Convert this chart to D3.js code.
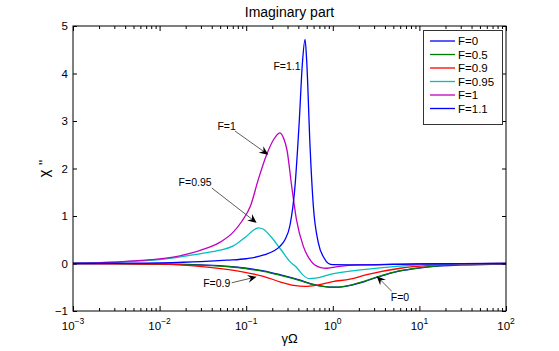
<!DOCTYPE html>
<html>
<head>
<meta charset="utf-8">
<script src="https://cdn.jsdelivr.net/npm/d3@7"></script>
<style>
  body { margin: 0; background: #fff; }
  text { font-family: "Liberation Sans", Arial, Helvetica, sans-serif; fill: #000; }
</style>
</head>
<body>
<svg id="chart" width="559" height="351"></svg>
<script>
// ---- data ----
const xDomain = [1e-3, 1e2];
const yDomain = [-1, 5];
const yTicks = [-1, 0, 1, 2, 3, 4, 5];
const xTickExps = [-3, -2, -1, 0, 1, 2];

const seriesNames = ["F=0", "F=0.5", "F=0.9", "F=0.95", "F=1", "F=1.1"];

// [γΩ, χ''] pairs
const serF0 = [[0.001, 0], [0.003, -0.003], [0.01, -0.01], [0.03, -0.03], [0.063, -0.06], [0.1, -0.1],
  [0.158, -0.155], [0.25, -0.24], [0.4, -0.34], [0.63, -0.45], [1.0, -0.5], [1.41, -0.48],
  [2.24, -0.39], [3.5, -0.27], [5.5, -0.17], [8, -0.12], [13, -0.07], [30, -0.03], [100, -0.01]];
const serF05 = [[0.001, 0], [0.003, -0.004], [0.01, -0.012], [0.03, -0.035], [0.063, -0.068], [0.1, -0.11],
  [0.158, -0.165], [0.25, -0.25], [0.4, -0.35], [0.63, -0.455], [1.0, -0.5], [1.41, -0.475],
  [2.24, -0.38], [3.5, -0.265], [5.5, -0.165], [8, -0.115], [13, -0.065], [30, -0.028], [100, -0.01]];
const serF09 = [[0.001, 0], [0.003, -0.005], [0.01, -0.015], [0.025, -0.05], [0.063, -0.13], [0.1, -0.19],
  [0.158, -0.27], [0.25, -0.39], [0.355, -0.46], [0.48, -0.48], [0.63, -0.46], [1.0, -0.38],
  [1.58, -0.33], [2.4, -0.24], [6, -0.1], [13, -0.04], [30, -0.012], [100, 0]];
const serF095 = [[0.001, 0], [0.003, 0.03], [0.01, 0.08], [0.03, 0.21], [0.05, 0.28], [0.071, 0.37],
  [0.1, 0.57], [0.126, 0.72], [0.138, 0.75], [0.158, 0.72], [0.19, 0.58], [0.25, 0.3], [0.316, 0.05],
  [0.38, -0.08], [0.457, -0.25], [0.54, -0.32], [0.63, -0.31], [0.93, -0.23], [2.24, -0.13],
  [5.5, -0.06], [12.6, -0.025], [30, -0.01], [100, 0]];
const serF1 = [[0.001, 0], [0.003, 0.03], [0.008, 0.08], [0.016, 0.15], [0.03, 0.28], [0.05, 0.45],
  [0.07, 0.65], [0.09, 0.9], [0.112, 1.21], [0.138, 1.77], [0.172, 2.29], [0.206, 2.6], [0.245, 2.75],
  [0.275, 2.6], [0.295, 2.4], [0.335, 1.63], [0.38, 0.93], [0.457, 0.36], [0.56, 0.05], [0.71, -0.08],
  [0.85, -0.1], [1.2, -0.06], [2, -0.03], [5, -0.015], [16, -0.005], [100, 0]];
const serF11 = [[0.001, 0], [0.003, 0.005], [0.01, 0.015], [0.03, 0.04], [0.06, 0.07], [0.1, 0.1],
  [0.16, 0.18], [0.245, 0.36], [0.28, 0.5], [0.32, 0.8], [0.365, 1.6], [0.41, 3.0], [0.445, 4.2],
  [0.478, 4.72], [0.5, 4.25], [0.546, 2.47], [0.596, 1.21], [0.68, 0.44], [0.79, 0.12], [0.89, 0.0],
  [1.0, -0.025], [2, -0.03], [5, -0.02], [10, -0.01], [30, -0.004], [100, 0]];

const seriesData = [serF0, serF05, serF09, serF095, serF1, serF11];
const seriesColors = ["#0000ff", "#008000", "#ff0000", "#00bfbf", "#bf00bf", "#0000ff"];

// annotation texts, label positions and arrow tail/head, in data units
const noteTexts = ["F=1.1", "F=1", "F=0.95", "F=0.9", "F=0"];
const noteLabels = [[0.296, 4.15], [0.0594, 2.89], [0.0257, 1.70], [0.0457, -0.42], [5.97, -0.71]];
const noteTails = [null, [0.074, 2.79], [0.040, 1.59], [0.068, -0.406], [4.79, -0.583]];
const noteHeads = [null, [0.18, 2.29], [0.132, 0.857], [0.132, -0.28], [3.21, -0.267]];

// ---- layout ----
const margin = { left: 73, right: 53, top: 26, bottom: 40 };
const width = 559, height = 351;
const svg = d3.select("#chart");

const x = d3.scaleLog().domain(xDomain).range([margin.left, width - margin.right]);
const y = d3.scaleLinear().domain(yDomain).range([height - margin.bottom, margin.top]);

const plotL = x.range()[0], plotR = x.range()[1];
const plotT = y.range()[1], plotB = y.range()[0];

// title
svg.append("text")
  .attr("x", (plotL + plotR) / 2).attr("y", 17)
  .attr("text-anchor", "middle").style("font-size", "14px")
  .text("Imaginary part");

// clip for curves
svg.append("clipPath").attr("id", "clip")
  .append("rect").attr("x", plotL).attr("y", plotT)
  .attr("width", plotR - plotL).attr("height", plotB - plotT);

const line = d3.line()
  .x(d => x(d[0]))
  .y(d => y(d[1]))
  .curve(d3.curveMonotoneX);

const curves = svg.append("g").attr("clip-path", "url(#clip)");
seriesData.forEach((s, i) => {
  curves.append("path")
    .attr("d", line(s))
    .attr("fill", "none")
    .attr("stroke", seriesColors[i])
    .attr("stroke-width", 1.3)
    .attr("stroke-linejoin", "round");
});

// axes
const majors = xTickExps.map(e => Math.pow(10, e));
const minors = [];
for (let e = xTickExps[0]; e < xTickExps[xTickExps.length - 1]; e++) {
  for (let m = 2; m <= 9; m++) minors.push(m * Math.pow(10, e));
}

function styleAxis(g) {
  g.select(".domain").remove();
  g.selectAll(".tick line").attr("stroke", "#000").attr("stroke-width", 1);
}

svg.append("g").attr("transform", `translate(0,${plotB})`)
  .call(d3.axisBottom(x).tickValues(majors).tickSize(-5).tickSizeOuter(0).tickFormat(""))
  .call(styleAxis);
svg.append("g").attr("transform", `translate(0,${plotB})`)
  .call(d3.axisBottom(x).tickValues(minors).tickSize(-3).tickSizeOuter(0).tickFormat(""))
  .call(styleAxis);
svg.append("g").attr("transform", `translate(0,${plotT})`)
  .call(d3.axisTop(x).tickValues(majors).tickSize(-5).tickSizeOuter(0).tickFormat(""))
  .call(styleAxis);
svg.append("g").attr("transform", `translate(0,${plotT})`)
  .call(d3.axisTop(x).tickValues(minors).tickSize(-3).tickSizeOuter(0).tickFormat(""))
  .call(styleAxis);

const yAxisL = svg.append("g").attr("transform", `translate(${plotL},0)`)
  .call(d3.axisLeft(y).tickValues(yTicks).tickFormat(d3.format("d"))
    .tickSize(-4).tickSizeOuter(0).tickPadding(5))
  .call(styleAxis);
yAxisL.selectAll(".tick text")
  .style("font-size", "11.5px")
  .attr("font-family", null);
svg.append("g").attr("transform", `translate(${plotR},0)`)
  .call(d3.axisRight(y).tickValues(yTicks).tickSize(-4).tickSizeOuter(0).tickFormat(""))
  .call(styleAxis);

// x tick labels with superscript exponents
const xLab = svg.append("g");
xTickExps.forEach(e => {
  const t = xLab.append("text")
    .attr("x", x(Math.pow(10, e)))
    .attr("y", plotB + 19)
    .attr("text-anchor", "middle")
    .style("font-size", "11.5px");
  t.append("tspan").text("10");
  t.append("tspan").attr("dy", "-6").style("font-size", "8.5px").text(e < 0 ? "\u2212" + (-e) : String(e));
});

// box
svg.append("rect")
  .attr("x", plotL).attr("y", plotT)
  .attr("width", plotR - plotL).attr("height", plotB - plotT)
  .attr("fill", "none").attr("stroke", "#000").attr("stroke-width", 1);

// axis labels
svg.append("text")
  .attr("x", (plotL + plotR) / 2).attr("y", 343)
  .attr("text-anchor", "middle").style("font-size", "13px")
  .text("\u03b3\u03a9");
svg.append("text")
  .attr("transform", `translate(49,${(plotT + plotB) / 2}) rotate(-90)`)
  .attr("text-anchor", "middle").style("font-size", "15px")
  .text("\u03c7 ''");

// annotations
const notes = svg.append("g");
noteTexts.forEach((txt, i) => {
  notes.append("text")
    .attr("x", x(noteLabels[i][0])).attr("y", y(noteLabels[i][1]))
    .attr("dy", "0.35em")
    .attr("text-anchor", "middle").style("font-size", "10.5px")
    .text(txt);
  if (!noteTails[i]) return;
  const x0 = x(noteTails[i][0]), y0 = y(noteTails[i][1]);
  const x1 = x(noteHeads[i][0]), y1 = y(noteHeads[i][1]);
  const len = Math.hypot(x1 - x0, y1 - y0);
  const ux = (x1 - x0) / len, uy = (y1 - y0) / len;
  const px = -uy, py = ux;
  const hl = 9, hw = 4;
  notes.append("line")
    .attr("x1", x0).attr("y1", y0)
    .attr("x2", x1 - ux * 5).attr("y2", y1 - uy * 5)
    .attr("stroke", "#333").attr("stroke-width", 0.8);
  const p = d3.path();
  p.moveTo(x1, y1);
  p.lineTo(x1 - ux * hl + px * hw, y1 - uy * hl + py * hw);
  p.lineTo(x1 - ux * hl * 0.65, y1 - uy * hl * 0.65);
  p.lineTo(x1 - ux * hl - px * hw, y1 - uy * hl - py * hw);
  p.closePath();
  notes.append("path").attr("d", p.toString()).attr("fill", "#000");
});

// legend
const legX = 423, legY = 30, legW = 79, rowH = 13.5;
const legend = svg.append("g");
legend.append("rect")
  .attr("x", legX + 0.5).attr("y", legY + 0.5)
  .attr("width", legW).attr("height", rowH * seriesNames.length + 13)
  .attr("fill", "#fff").attr("stroke", "#333").attr("stroke-width", 1);
seriesNames.forEach((name, i) => {
  const ry = legY + 11 + i * rowH;
  legend.append("line")
    .attr("x1", legX + 7).attr("x2", legX + 32)
    .attr("y1", ry).attr("y2", ry)
    .attr("stroke", seriesColors[i]).attr("stroke-width", 1.3);
  legend.append("text")
    .attr("x", legX + 35).attr("y", ry).attr("dy", "0.36em")
    .style("font-size", "11.5px")
    .text(name);
});
</script>
</body>
</html>
